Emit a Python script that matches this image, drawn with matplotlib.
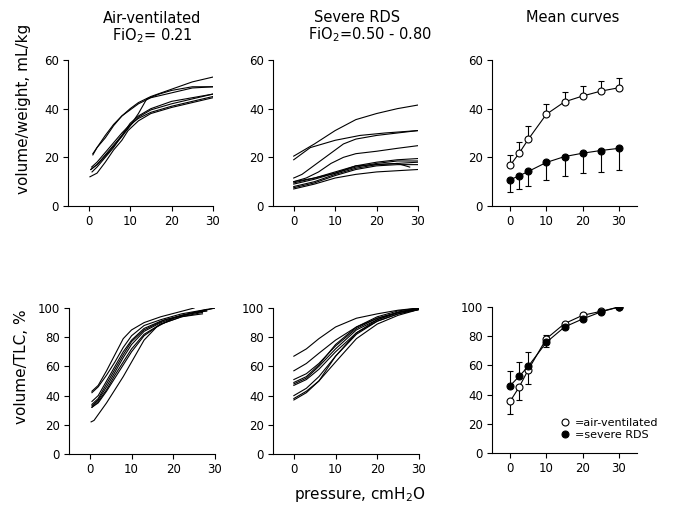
import matplotlib
matplotlib.use("Agg")
import matplotlib.pyplot as plt
from matplotlib.lines import Line2D

plt.rcParams['font.family'] = ['DejaVu Sans']
plt.rcParams['mathtext.fontset'] = 'dejavusans'

# individual curves, volume/weight (mL/kg) vs pressure (cmH2O)
air_vw_p = [
    [1, 2, 4, 6, 8, 10, 12, 15, 20, 25, 30],
    [1, 2, 4, 6, 8, 10, 12, 15, 20, 25, 30],
    [0.5, 2, 4, 6, 8, 10, 12, 14, 17, 20, 25, 30],
    [0.5, 2, 4, 6, 8, 10, 12, 15, 20, 25, 30],
    [0.7, 2, 4, 6, 8, 10, 12, 15, 20, 25, 30],
    [0.3, 2, 4, 6, 8, 9.5, 12, 15, 20, 25, 30],
    [0.8, 2, 4, 6, 8, 10, 12, 15, 20, 25, 30],
]
air_vw_v = [
    [21, 24, 28, 33, 37, 40, 42.5, 45, 48, 51, 53],
    [21.5, 24, 29, 33.5, 37, 39.5, 42, 44.5, 46.5, 48.5, 49],
    [15, 17, 21, 25, 29, 33, 38, 44, 46, 47.5, 49, 49],
    [15, 17, 20.5, 24.5, 28.5, 33, 36.5, 39.5, 42, 44, 46],
    [16, 18, 22, 26, 30, 33.5, 36, 38.5, 41, 43, 45],
    [12, 13.5, 18, 23, 27, 31, 35, 38, 40.5, 42.5, 44.5],
    [14, 16, 20, 24, 29, 34, 37, 40, 43, 44.5, 46],
]

rds_vw_p = [
    [0, 5, 10, 15, 20, 25, 30],
    [0, 4, 10, 16, 22, 30],
    [0, 2, 4, 6, 8, 10, 12, 15, 20, 25, 30],
    [0, 3, 6, 9, 12, 15, 20, 25, 30],
    [0, 5, 10, 15, 20, 25, 30],
    [0, 5, 10, 15, 20, 25, 30],
    [0, 5, 10, 15, 20, 25, 30],
    [0, 5, 10, 15, 20, 25, 30],
    [0, 5, 10, 15, 20, 25, 30],
    [0, 5, 10, 15, 20, 25, 28],
]
rds_vw_v = [
    [20.5, 25.5, 31, 35.5, 38, 40, 41.5],
    [19, 24, 27, 29, 30, 31],
    [11.5, 13, 15.5, 18, 20.5, 23, 25.5, 27.5, 29, 30, 31],
    [10, 11.5, 14, 17.5, 20, 21.5, 22.5, 23.7, 24.8],
    [10, 11.5, 13.5, 16.5, 18, 19, 19.5],
    [9, 11, 13.5, 16, 17.5, 18.5, 18.5],
    [8, 10, 13, 15.5, 17, 17.5, 18],
    [7.5, 9.5, 12.5, 15, 16.5, 17, 17],
    [7, 9, 11.5, 13, 14, 14.5, 15],
    [9.5, 11.5, 14, 16.5, 17, 17.5, 16],
]

# individual curves, volume/TLC (%) vs pressure
air_tlc_p = [
    [0.5, 2, 4, 6, 8, 10, 13, 17, 21, 25],
    [0.5, 2, 4, 6, 8, 10, 13, 17, 22, 28],
    [0.5, 2, 4, 6, 8, 10, 13, 17, 22, 28],
    [0.5, 2, 4, 6, 8, 10, 13, 17, 22, 28, 30],
    [0.5, 2, 4, 6, 8, 10, 13, 17, 22, 27],
    [0.5, 2, 4, 6, 8, 10, 13, 18, 24, 30],
    [0.3, 1, 2, 4, 6, 8, 10, 13, 16, 20, 25, 28],
    [0.5, 2, 4, 6, 8, 10, 13, 17, 22, 27],
]
air_tlc_v = [
    [43, 47, 57, 68, 79, 85, 90, 94, 97, 100],
    [42, 46, 54, 63, 73, 81, 88, 92, 96, 99],
    [36, 40, 50, 60, 70, 78, 86, 91, 95, 98],
    [33, 37, 46, 56, 66, 75, 84, 90, 95, 99, 100],
    [32, 35, 43, 52, 61, 70, 81, 89, 94, 97],
    [34, 38, 48, 58, 68, 77, 85, 92, 96, 100],
    [22, 23, 27, 35, 44, 53, 63, 78, 87, 93, 97, 98],
    [32, 36, 44, 54, 63, 72, 82, 89, 94, 96],
]

rds_tlc_p = [0, 3, 6, 10, 15, 20, 25, 30]
rds_tlc_v = [
    [67, 72, 79, 87, 93, 96, 98.5, 100],
    [57, 62, 69, 78, 87, 93, 97, 100],
    [51, 55, 62, 74, 86, 93, 97, 99.5],
    [48, 52, 60, 72, 85, 92, 97, 99],
    [47, 51, 58, 70, 83, 91, 96, 99],
    [49, 53, 61, 75, 87, 94, 98, 100],
    [40, 45, 53, 67, 82, 91, 96, 99],
    [38, 43, 50, 63, 79, 89, 95, 99],
    [37, 42, 50, 67, 83, 92, 97, 100],
]

# mean curves
mean_p = [0, 2.5, 5, 10, 15, 20, 25, 30]
air_vw_mean = [16.7, 21.7, 27.4, 37.7, 42.8, 45.2, 47.2, 48.6]
air_vw_sd = [4.1, 4.6, 5.3, 4.2, 4.1, 4.2, 4.1, 4.1]
rds_vw_mean = [10.8, 12.4, 14.2, 17.9, 20.3, 21.7, 22.8, 23.7]
rds_vw_sd = [4.9, 5.5, 6.0, 7.3, 7.9, 8.2, 8.7, 8.8]
air_tlc_mean = [35.4, 45.2, 57.0, 78.3, 88.6, 94.3, 97.0, 100]
air_tlc_sd = [8.5, 8.7, 10.0, 5.7, 0, 0, 0, 0]
rds_tlc_mean = [46.1, 52.5, 59.4, 75.8, 86.3, 91.8, 96.6, 100]
rds_tlc_sd = [9.8, 10.1, 9.6, 5.2, 0, 0, 0, 0]

fig = plt.figure(figsize=(6.85, 5.14), dpi=100)
W, H = 685.0, 514.0


def make_ax(x0, x1, y0, y1):
    return fig.add_axes([x0 / W, 1 - y1 / H, (x1 - x0) / W, (y1 - y0) / H])


def style(ax, ymax, xmax):
    ax.set_xlim(-5, xmax)
    ax.set_ylim(0, ymax)
    ax.spines['top'].set_visible(False)
    ax.spines['right'].set_visible(False)
    for s in ['left', 'bottom']:
        ax.spines[s].set_linewidth(0.8)
    ax.set_xticks([0, 10, 20, 30])
    if ymax == 60:
        ax.set_yticks([0, 20, 40, 60])
    else:
        ax.set_yticks([0, 20, 40, 60, 80, 100])
    ax.tick_params(direction='out', length=3.5, width=0.8, labelsize=8.5, pad=3)


ax1 = make_ax(68, 213, 60, 206)
ax2 = make_ax(273, 418, 60, 206)
ax3 = make_ax(492, 637, 60, 206)
ax4 = make_ax(69, 215, 308, 454)
ax5 = make_ax(273, 419, 308, 454)
ax6 = make_ax(492, 637, 307, 453)

for p, v in zip(air_vw_p, air_vw_v):
    ax1.plot(p, v, color='black', lw=0.8)
for p, v in zip(rds_vw_p, rds_vw_v):
    ax2.plot(p, v, color='black', lw=0.8)
for p, v in zip(air_tlc_p, air_tlc_v):
    ax4.plot(p, v, color='black', lw=0.8)
for v in rds_tlc_v:
    ax5.plot(rds_tlc_p, v, color='black', lw=0.8)

zeros = [0] * len(mean_p)
# top right: air bars go up, RDS bars go down
ax3.errorbar(mean_p, air_vw_mean, yerr=[zeros, air_vw_sd], color='black', lw=0.8,
             elinewidth=0.8, capsize=2.5, capthick=0.8, marker='o', ms=5,
             mfc='white', mec='black', mew=0.8)
ax3.errorbar(mean_p, rds_vw_mean, yerr=[rds_vw_sd, zeros], color='black', lw=0.8,
             elinewidth=0.8, capsize=2.5, capthick=0.8, marker='o', ms=5,
             mfc='black', mec='black', mew=0.8)
# bottom right: air bars go down, RDS bars go up
air_sd_p = [p for p, s in zip(mean_p, air_tlc_sd) if s > 0]
air_sd_m = [m for m, s in zip(air_tlc_mean, air_tlc_sd) if s > 0]
air_sd_s = [s for s in air_tlc_sd if s > 0]
rds_sd_p = [p for p, s in zip(mean_p, rds_tlc_sd) if s > 0]
rds_sd_m = [m for m, s in zip(rds_tlc_mean, rds_tlc_sd) if s > 0]
rds_sd_s = [s for s in rds_tlc_sd if s > 0]
ax6.errorbar(air_sd_p, air_sd_m, yerr=[air_sd_s, [0] * len(air_sd_s)], fmt='none',
             ecolor='black', elinewidth=0.8, capsize=2.5, capthick=0.8)
ax6.errorbar(rds_sd_p, rds_sd_m, yerr=[[0] * len(rds_sd_s), rds_sd_s], fmt='none',
             ecolor='black', elinewidth=0.8, capsize=2.5, capthick=0.8)
ax6.plot(mean_p, air_tlc_mean, color='black', lw=0.8, marker='o', ms=5,
         mfc='white', mec='black', mew=0.8, zorder=3)
ax6.plot(mean_p, rds_tlc_mean, color='black', lw=0.8, marker='o', ms=5,
         mfc='black', mec='black', mew=0.8, zorder=3)

style(ax1, 60, 30)
style(ax2, 60, 30)
style(ax3, 60, 35)
style(ax4, 100, 30)
style(ax5, 100, 30)
style(ax6, 100, 35)

handles = [
    Line2D([], [], ls='none', marker='o', ms=5, mfc='white', mec='black', mew=0.8),
    Line2D([], [], ls='none', marker='o', ms=5, mfc='black', mec='black', mew=0.8),
]
ax6.legend(handles, ['=air-ventilated', '=severe RDS'], loc='lower left',
           bbox_to_anchor=(0.47, 0.09), frameon=False, fontsize=8,
           handlelength=0.9, handletextpad=0.4, labelspacing=0.15,
           borderpad=0, borderaxespad=0)

# titles and axis labels
fs = 10.5
fig.text(152 / W, 1 - 23 / H, 'Air-ventilated', ha='center', va='baseline', fontsize=fs)
fig.text(152 / W, 1 - 40 / H, 'FiO$_2$= 0.21', ha='center', va='baseline', fontsize=fs)
fig.text(357 / W, 1 - 22 / H, 'Severe RDS', ha='center', va='baseline', fontsize=fs)
fig.text(370 / W, 1 - 39 / H, 'FiO$_2$=0.50 - 0.80', ha='center', va='baseline', fontsize=fs)
fig.text(573 / W, 1 - 22 / H, 'Mean curves', ha='center', va='baseline', fontsize=fs)
fig.text(23.5 / W, 1 - 109 / H, 'volume/weight, mL/kg', rotation=90,
         ha='center', va='center', fontsize=11)
fig.text(22 / W, 1 - 367 / H, 'volume/TLC, %', rotation=90,
         ha='center', va='center', fontsize=11)
fig.text(360 / W, 1 - 494 / H, 'pressure, cmH$_2$O', ha='center', va='center', fontsize=11)

fig.savefig('out.png', dpi=100)
